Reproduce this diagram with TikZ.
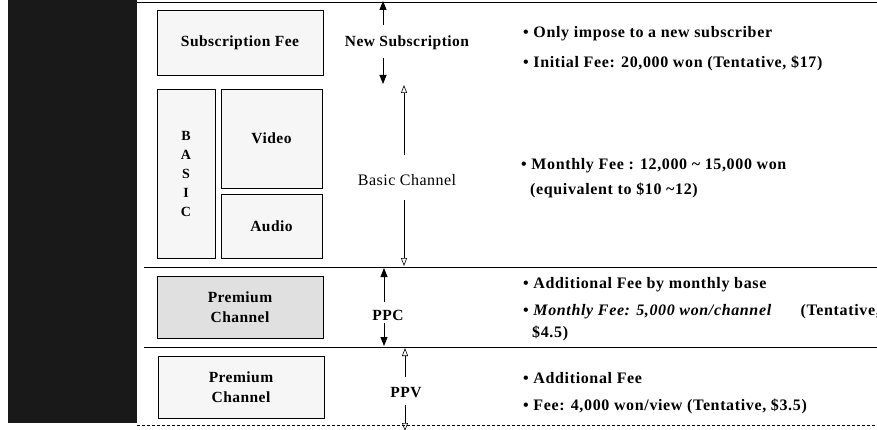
\documentclass[tikz,border=0pt]{standalone}
\usepackage{fontspec}
\setmainfont{Liberation Serif}
\newfontfamily\notefont[LetterSpace=4]{Liberation Serif}
\newfontfamily\labelfont[LetterSpace=3]{Liberation Serif}
\usetikzlibrary{arrows.meta}

\tikzset{
  feebox/.style={draw, line width=0.9pt, fill=gray!7, inner sep=0pt,
    font=\labelfont\bfseries\fontsize{15.5}{20}\selectfont, align=center},
  midlabel/.style={font=\labelfont\bfseries\fontsize{15.5}{16}\selectfont},
  note/.style={anchor=base west, inner sep=0pt, font=\notefont\bfseries\fontsize{16}{18}\selectfont},
  solidtip/.style={-{Triangle[length=9pt,width=7pt]}, line width=0.8pt},
  opentip/.style={-{Triangle[open,length=8pt,width=6pt]}, line width=0.6pt},
  sepline/.style={line width=1pt}
}

\begin{document}
\begin{tikzpicture}[x=1pt,y=-1pt]
  \clip (0,0) rectangle (877,430);
  \fill[white] (0,0) rectangle (877,430);
  \fill[black!90] (8,0) rectangle (137,423);
  \draw[line width=0.8pt] (137,2) -- (877,2);
  \draw[sepline] (144,267) -- (877,267);
  \draw[sepline] (144,347) -- (877,347);
  \draw[line width=0.6pt, densely dashed] (137,425) -- (877,425);

  \node[feebox, minimum width=166pt, minimum height=65pt] (subfee) at (240,42.5) {Subscription Fee};
  \node[feebox, minimum width=58pt, minimum height=169pt, font=\bfseries\fontsize{14}{19}\selectfont] (basic) at (186,173.5) {B\\A\\S\\I\\C};
  \node[feebox, minimum width=101pt, minimum height=99pt] (video) at (271.5,138.5) {Video};
  \node[feebox, minimum width=101pt, minimum height=64pt] (audio) at (271.5,226) {Audio};
  \node[feebox, fill=gray!24, minimum width=166pt, minimum height=62pt] (ppcbox) at (240,307) {Premium\\Channel};
  \node[feebox, minimum width=166pt, minimum height=62pt] (ppvbox) at (241,387) {Premium\\Channel};

  \node[midlabel] (newsub) at (407,43) {New Subscription};
  \node[midlabel, font=\labelfont\fontsize{16}{16}\selectfont] (basicch) at (407,180) {Basic Channel};
  \node[midlabel] (ppc) at (388,315) {PPC};
  \node[midlabel] (ppv) at (406,393) {PPV};

  \coordinate (ns0) at (383,1);   \coordinate (ns1) at (383,25);
  \coordinate (ns2) at (383,58);  \coordinate (ns3) at (383,84);
  \coordinate (bc0) at (404,85);  \coordinate (bc1) at (404,155);
  \coordinate (bc2) at (404,200); \coordinate (bc3) at (404,266);
  \coordinate (pc0) at (384,268); \coordinate (pc1) at (384,302);
  \coordinate (pc2) at (384,323); \coordinate (pc3) at (384,346);
  \coordinate (pv0) at (405,348); \coordinate (pv1) at (405,377);
  \coordinate (pv2) at (405,405); \coordinate (pv3) at (405,431);
  \foreach \s/\e in {ns1/ns0,ns2/ns3,pc1/pc0,pc2/pc3}
    \draw[solidtip] (\s) -- (\e);
  \foreach \s/\e in {bc1/bc0,bc2/bc3,pv1/pv0,pv2/pv3}
    \draw[opentip] (\s) -- (\e);

  \node[note] (n1) at (523,38) {• Only impose to a new subscriber};
  \node[note] (n2) at (523,68) {• Initial Fee: 20,000 won (Tentative, \$17)};
  \node[note] (n3) at (521,170) {• Monthly Fee : 12,000 \textasciitilde{} 15,000 won};
  \node[note] (n4) at (530,195) {(equivalent to \$10 \textasciitilde{}12)};
  \node[note] (n5) at (523,288) {• Additional Fee by monthly base};
  \node[note] (n6) at (523,315) {• \textit{Monthly Fee: 5,000 won/channel}\hspace{1.8em}(Tentative,};
  \node[note] (n7) at (532,337) {\$4.5)};
  \node[note] (n8) at (523,383) {• Additional Fee};
  \node[note] (n9) at (523,410) {• Fee: 4,000 won/view (Tentative, \$3.5)};
\end{tikzpicture}
\end{document}
